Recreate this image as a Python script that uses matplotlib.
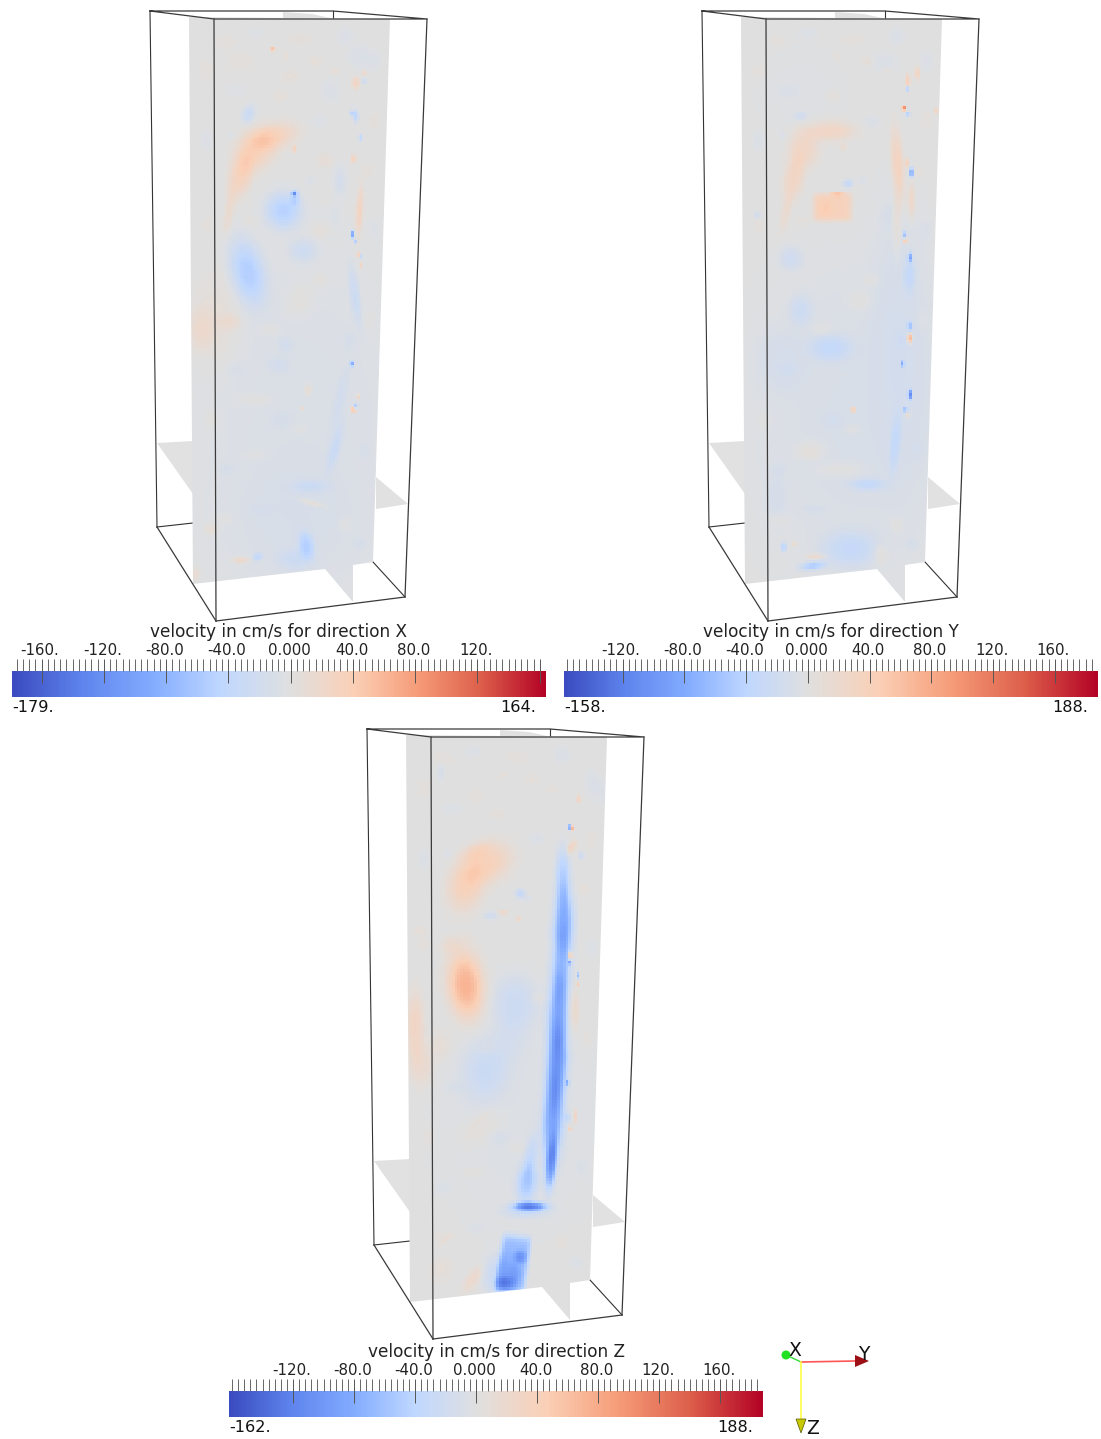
import numpy as np
import matplotlib
matplotlib.use("Agg")
import matplotlib.pyplot as plt
from matplotlib.colors import LinearSegmentedColormap, TwoSlopeNorm
from matplotlib.patches import Polygon, Circle, PathPatch
from matplotlib.path import Path
from matplotlib.transforms import ScaledTranslation

W, H = 1101, 1439

# colour ranges of the three panels
ranges_x = (-179, 164)
ranges_y = (-158, 188)
ranges_z = (-162, 188)

labels_x = ["-160.", "-120.", "-80.0", "-40.0", "0.000", "40.0", "80.0", "120.", ""]
labels_y = ["-120.", "-80.0", "-40.0", "0.000", "40.0", "80.0", "120.", "160."]
labels_z = ["-120.", "-80.0", "-40.0", "0.000", "40.0", "80.0", "120.", "160."]
ticks_x = [-160, -120, -80, -40, 0, 40, 80, 120, 160]
ticks_y = [-120, -80, -40, 0, 40, 80, 120, 160]
ticks_z = [-120, -80, -40, 0, 40, 80, 120, 160]

cmap_stops = ["#3b4cc0", "#5f85ee", "#83acff", "#c0d8ff", "#e0e0e0",
              "#fbd0b6", "#f69c78", "#dd5f4b", "#b40426"]

# velocity features: x, y, sigma x, sigma y, angle, cm/s
blobs_x = [
    (300, 420, 85, 140, 0, -8), (290, 530, 70, 50, 0, -5), (215, 320, 20, 38, 0, 10),
    (272, 135, 20, 10, -12, 30), (255, 150, 18, 14, -40, 32), (240, 175, 9, 18, 15, 32),
    (228, 212, 4, 18, 8, 16), (294, 148, 2, 3, 0, 30),
    (283, 210, 14, 14, 0, -48), (295, 198, 4, 6, 0, -28), (294, 193, 2, 2, 0, -90),
    (247, 272, 13, 26, -14, -50), (303, 250, 11, 9, 0, -20), (248, 113, 5, 7, 20, -28),
    (272, 48, 2, 2, 0, 50), (200, 330, 10, 16, 0, 14), (228, 322, 10, 6, 0, 12),
    (300, 300, 10, 14, 30, 8), (285, 345, 6, 6, 0, -10),
    (360, 210, 3, 20, 3, 30), (355, 295, 4, 24, -8, -22), (352, 110, 2, 4, 0, -55),
    (356, 115, 2, 5, 0, -45), (352, 108, 2, 2, 0, 50), (361, 137, 2, 3, 0, -45),
    (354, 158, 2, 3, 0, 35), (353, 234, 1.5, 3, 0, -90), (355, 241, 1, 2, 0, -70),
    (362, 256, 1.5, 2, 0, -40), (358, 254, 1.5, 2, 0, 35), (361, 265, 1.5, 2, 0, 35),
    (356, 82, 3, 5, 0, 28), (365, 72, 2, 2, 0, 25), (365, 80, 2, 2, 0, -25),
    (352, 364, 1.5, 2.5, 0, -95), (354, 410, 2, 2, 0, 65), (356, 407, 1.5, 2, 0, -50),
    (358, 397, 1.5, 2, 0, 30), (308, 390, 3, 5, 0, 18), (302, 409, 2, 2, 0, 22),
    (335, 448, 4, 20, 15, -22), (340, 400, 4, 25, 12, -12), (310, 487, 15, 5, 0, -18),
    (313, 504, 11, 2, 15, 18), (306, 546, 6, 11, -10, -42), (295, 560, 14, 8, 0, -18),
    (257, 558, 4, 3, -30, -32), (240, 561, 7, 3, 0, 26),
    (278, 365, 8, 6, 0, -10), (255, 400, 14, 5, 0, 8), (320, 230, 8, 6, 0, 8),
    (290, 75, 8, 5, 0, 7), (240, 60, 12, 8, 0, 4), (330, 90, 8, 10, 0, -7),
    (360, 55, 10, 10, 0, -8), (340, 180, 5, 12, 0, -14), (325, 160, 6, 6, 0, 10),
    (210, 530, 6, 5, 0, 12), (195, 575, 3, 5, 0, 14),
]
blobs_y = [
    (860, 420, 90, 130, 0, -9), (800, 90, 40, 40, 0, -3), (900, 320, 22, 110, 0, -8),
    (830, 130, 19, 8, 0, 30), (803, 147, 12, 15, 0, 28), (793, 177, 8, 18, 10, 30),
    (785, 212, 4, 16, 12, 16), (843, 146, 3, 3, 0, 15),
    (825, 208, 6, 7, 0, 10), (837, 194, 6, 1.5, 0, 45),
    (848, 183, 4, 3, 0, -30), (898, 165, 5, 30, -5, 36), (897, 222, 3, 26, 0, 14),
    (912, 200, 3, 14, 0, 28), (904, 107, 1.5, 2, 0, 130), (908, 113, 2, 2, 0, -45),
    (912, 172, 1.5, 4, 0, -105), (907, 162, 1.5, 4, 0, 40), (908, 88, 1.5, 2, 0, -55),
    (908, 80, 2, 6, 0, 38), (918, 72, 2, 5, 0, 35), (937, 110, 1.5, 3, 0, 38),
    (905, 235, 1.5, 3, 0, -50), (906, 240, 1.5, 2, 0, 70), (910, 257, 1.5, 4, 0, -70),
    (910, 275, 5, 14, 0, -22), (910, 338, 2, 4, 0, 80), (910, 326, 2, 4, 0, -45),
    (903, 364, 1.5, 3, 0, -70), (910, 395, 1.5, 4, 0, -100), (906, 410, 1.5, 2, 0, -60),
    (853, 410, 2, 2, 0, 65), (908, 415, 2, 3, 0, 25), (895, 445, 4, 24, 5, -22),
    (790, 258, 9, 9, 0, -18), (800, 310, 9, 12, 0, -18), (830, 348, 17, 10, 0, -26),
    (780, 360, 20, 25, 0, -8), (868, 485, 14, 5, 0, -24), (850, 550, 22, 14, 0, -26),
    (812, 567, 10, 3, -5, -45), (815, 557, 7, 2, 0, 26), (783, 548, 2, 4, 0, -40),
    (794, 545, 2, 2, 0, 26), (756, 215, 3, 3, 0, -18), (840, 470, 20, 6, 0, 8),
    (810, 450, 12, 8, 0, 10), (880, 555, 6, 8, 0, 12), (860, 300, 10, 8, 0, 7),
    (800, 115, 5, 4, 0, -14), (885, 62, 10, 8, 0, -7), (775, 500, 8, 20, 0, -8),
]
blobs_z = [
    (520, 1120, 70, 90, 0, -5),
    (487, 862, 20, 15, -30, 38), (465, 885, 14, 20, 12, 38), (475, 850, 13, 6, -25, 18),
    (465, 985, 14, 26, -6, 72), (450, 945, 8, 7, 0, 14), (414, 1025, 7, 26, 0, 30),
    (420, 1065, 10, 18, 0, 18), (440, 1045, 8, 12, 0, 10), (515, 1003, 18, 22, 0, -22),
    (485, 1070, 18, 24, 10, -22), (510, 1040, 14, 18, 0, -8), (480, 1130, 20, 12, -35, 8),
    (472, 1280, 5, 12, 35, 22), (440, 1270, 10, 10, 0, 8),
    (563, 875, 6, 22, 0, -45), (564, 920, 8, 25, 0, -75), (561, 965, 8, 28, 2, -55),
    (558, 1015, 8, 32, 3, -75), (557, 1065, 8, 30, 3, -78), (553, 1120, 8, 35, 3, -80),
    (551, 1165, 4, 20, 5, -80), (530, 1207, 13, 3.5, 0, -105), (527, 1183, 8, 15, 8, -50),
    (531, 1155, 5, 16, 10, -26), (526, 1212, 18, 5, 0, -25),
    (570, 826, 1.5, 2, 0, -85), (573, 827, 1.5, 2, 0, 70), (571, 955, 1.5, 3, 0, 85),
    (570, 962, 1.5, 2, 0, -50), (579, 975, 1, 3, 0, -75), (578, 984, 1.5, 2, 0, 45),
    (582, 855, 2, 3, 0, -28), (579, 798, 2, 3, 0, 38), (572, 846, 3, 6, 30, 32),
    (575, 1010, 4, 16, 0, 20), (568, 1083, 1.5, 2.5, 0, -70), (575, 1117, 1.5, 6, 0, 34),
    (571, 1129, 1.5, 2, 0, 45), (568, 1118, 3, 4, 0, -25), (520, 893, 4, 4, 0, -32),
    (503, 912, 4, 2, 0, 24), (518, 918, 2, 2, 0, 30), (490, 915, 6, 3, 0, -18),
    (475, 795, 6, 6, 0, 6), (440, 770, 3, 8, 0, -10), (600, 790, 10, 10, 0, -6),
    (418, 930, 5, 3, 0, 10), (445, 1240, 10, 2, -40, 8), (480, 1120, 12, 2, -40, 6),
    (520, 1258, 5, 5, 0, -40), (505, 1285, 8, 6, 0, -50), (515, 1275, 5, 8, 0, -20),
    (498, 1275, 12, 16, 8, -28),
]
# the sharp edged patches: x, y, half width, half height, angle, cm/s
hard_y = [(832, 207, 20, 14, 0, 40)]
hard_z = [(513, 1265, 15, 29, 8, -65)]

# faint mottling of the slices, shared by the panels and given for panel X
mottle = [
    (225, 40, 8, 6, 5), (255, 32, 7, 4, -6), (300, 38, 9, 5, 6), (345, 35, 7, 7, -7),
    (375, 60, 6, 8, -6), (205, 70, 6, 8, 5), (235, 90, 9, 5, -5), (280, 95, 6, 4, 7),
    (315, 60, 5, 4, 8), (375, 120, 5, 7, 6), (205, 140, 5, 8, -6), (320, 120, 7, 5, -6),
    (335, 215, 5, 8, -6), (205, 225, 5, 6, 6), (375, 230, 5, 8, -5), (320, 280, 7, 5, 7),
    (270, 330, 8, 5, 6), (235, 370, 8, 5, -5), (300, 430, 6, 4, 7), (280, 420, 8, 6, -6),
    (350, 340, 5, 8, -7), (370, 320, 4, 8, 5), (255, 455, 10, 4, 6), (225, 470, 7, 5, -6),
    (365, 450, 5, 7, -5), (345, 525, 5, 6, 7), (225, 520, 8, 5, 6), (260, 510, 9, 4, -5),
    (360, 545, 5, 5, -7), (210, 420, 5, 8, 6), (250, 220, 6, 4, 5), (335, 70, 4, 3, 9),
    (285, 55, 3, 3, 8), (230, 135, 3, 4, -7), (310, 180, 4, 3, -7), (368, 170, 4, 5, 7),
]

# outlines, for panel X; the other two panels are the same view shifted
box_top = [(150, 11), (333, 11), (427, 19), (214, 19), (150, 11)]
box_lines_back = [[(333, 11), (333, 19)], [(150, 11), (157, 527)], [(157, 527), (193, 523)],
                  [(373, 562), (405, 597)]]
box_lines_front = [[(214, 19), (216, 621)], [(157, 527), (216, 621)], [(216, 621), (405, 597)],
                   [(405, 597), (427, 19)]]
slice_main = [(189, 17), (390, 19), (373, 562), (353, 565), (353, 602), (325, 569), (193, 584)]
slice_sliver = [(283, 12), (312, 14), (330, 18), (283, 18)]
wing_left = [(157, 443), (193, 441), (193, 494)]
wing_right = [(376, 477), (408, 504), (376, 509)]

fig = plt.figure(figsize=(W / 100, H / 100), dpi=100)
ax = fig.add_axes([0, 0, 1, 1])
cmap = LinearSegmentedColormap.from_list("cool_warm", cmap_stops, N=256)
grey = "#e1e1e1"


def shift(pts, dx, dy):
    return [(x + dx, y + dy) for x, y in pts]


def add_blobs(z, xx, yy, blobs, sharp=False):
    for cx, cy, sx, sy, ang, val in blobs:
        a = np.deg2rad(ang)
        u = (xx - cx) * np.cos(a) + (yy - cy) * np.sin(a)
        v = -(xx - cx) * np.sin(a) + (yy - cy) * np.cos(a)
        if sharp:
            z += val * np.exp(-(u / sx) ** 8 - (v / sy) ** 8)
        else:
            z += val * np.exp(-((u / (1.25 * sx)) ** 2 + (v / (1.25 * sy)) ** 2) ** 1.3)


def draw_panel(dx, dy, blobs, hard, vrange):
    norm = TwoSlopeNorm(vcenter=0, vmin=vrange[0], vmax=vrange[1])
    for poly in (wing_left, wing_right, slice_sliver):
        ax.add_patch(Polygon(shift(poly, dx, dy), fc=grey, ec="none", zorder=1))
    for seg in box_lines_back:
        ax.plot(*zip(*shift(seg, dx, dy)), color="#333333", lw=0.8, zorder=0.5)

    x = np.arange(185 + dx, 395 + dx, 2.8)
    y = np.arange(14 + dy, 606 + dy, 2.8)
    xx, yy = np.meshgrid(x, y)
    z = np.zeros_like(xx)
    add_blobs(z, xx, yy, blobs)
    add_blobs(z, xx, yy, [(mx + dx, my + dy, sx, sy, 0, val) for mx, my, sx, sy, val in mottle])
    add_blobs(z, xx, yy, hard, sharp=True)
    im = ax.imshow(z, extent=(x[0], x[-1], y[-1], y[0]), cmap=cmap, norm=norm,
                   interpolation="nearest", aspect="auto", zorder=2)
    clip = PathPatch(Path(shift(slice_main, dx, dy) + [(0, 0)],
                          [Path.MOVETO] + [Path.LINETO] * 6 + [Path.CLOSEPOLY]),
                     transform=ax.transData, fc="none", ec="none")
    ax.add_patch(clip)
    im.set_clip_path(clip)

    ax.plot(*zip(*shift(box_top, dx, dy)), color="#3a3a3a", lw=0.9, zorder=3)
    for seg in box_lines_front:
        ax.plot(*zip(*shift(seg, dx, dy)), color="#3a3a3a", lw=0.9, zorder=3)


def draw_colorbar(x0, y0, vrange, ticks, labels, name, title_y):
    norm = TwoSlopeNorm(vcenter=0, vmin=vrange[0], vmax=vrange[1])
    cax = fig.add_axes([x0 / W, 1 - (y0 + 26) / H, 534 / W, 26 / H])
    grad = np.linspace(vrange[0], vrange[1], 512)[None, :]
    cax.imshow(grad, extent=(vrange[0], vrange[1], 0, 1), cmap=cmap, norm=norm, aspect="auto")
    cax.set_xlim(*vrange)
    cax.set_yticks([])
    for sp in cax.spines.values():
        sp.set_visible(False)
    cax.xaxis.tick_top()
    cax.set_xticks(ticks)
    cax.set_xticklabels(labels, fontsize=10.8, color="#222222")
    cax.set_xticks(np.arange(np.ceil(vrange[0] / 4) * 4, vrange[1], 4), minor=True)
    cax.tick_params(axis="x", which="major", direction="inout", length=17.3, width=0.7,
                    color="#555555", pad=0.5)
    cax.tick_params(axis="x", which="minor", direction="out", length=8.6, width=0.7,
                    color="#666666")
    for lab in cax.get_xticklabels():
        lab.set_transform(lab.get_transform() + ScaledTranslation(-1.5 / 100, 0, fig.dpi_scale_trans))
    fig.text((x0 + 267) / W, 1 - title_y / H, f"velocity in cm/s for direction {name}",
             fontsize=12.2, color="#222222", ha="center", va="center")
    fig.text(x0 / W, 1 - (y0 + 37) / H, f"{vrange[0]}.", fontsize=11.6, color="#111111",
             ha="left", va="center")
    fig.text((x0 + 524) / W, 1 - (y0 + 37) / H, f"{vrange[1]}.", fontsize=11.6, color="#111111",
             ha="right", va="center")


draw_panel(0, 0, blobs_x, [], ranges_x)
draw_panel(552, 0, blobs_y, hard_y, ranges_y)
draw_panel(217, 718, blobs_z, hard_z, ranges_z)

# orientation triad
ax.plot([801, 786], [1362, 1355], color="#33dd33", lw=1, zorder=4)
ax.plot([801, 855], [1362, 1361], color="#ff5555", lw=1.2, zorder=4)
ax.plot([801, 801], [1362, 1420], color="#ffff44", lw=1.2, zorder=4)
ax.add_patch(Circle((786, 1355), 4.5, fc="#22e022", ec="none", zorder=5))
ax.add_patch(Polygon([(855, 1355), (855, 1367), (869, 1361)], fc="#9c0f14", ec="none", zorder=5))
ax.add_patch(Polygon([(796, 1419), (806, 1419), (801, 1433)], fc="#c8c800", ec="#55550a",
                     lw=0.5, zorder=5))
ax.text(795, 1351, "X", fontsize=13.5, color="#111111", ha="center", va="center", zorder=6)
ax.text(864, 1354, "Y", fontsize=13.5, color="#111111", ha="center", va="center", zorder=6)
ax.text(813, 1428, "Z", fontsize=13.5, color="#111111", ha="center", va="center", zorder=6)

ax.set_xlim(0, W)
ax.set_ylim(H, 0)
ax.axis("off")

draw_colorbar(12, 671, ranges_x, ticks_x, labels_x, "X", 632)
draw_colorbar(564, 671, ranges_y, ticks_y, labels_y, "Y", 632)
draw_colorbar(229, 1391, ranges_z, ticks_z, labels_z, "Z", 1352)

fig.savefig("out.png", dpi=100)
